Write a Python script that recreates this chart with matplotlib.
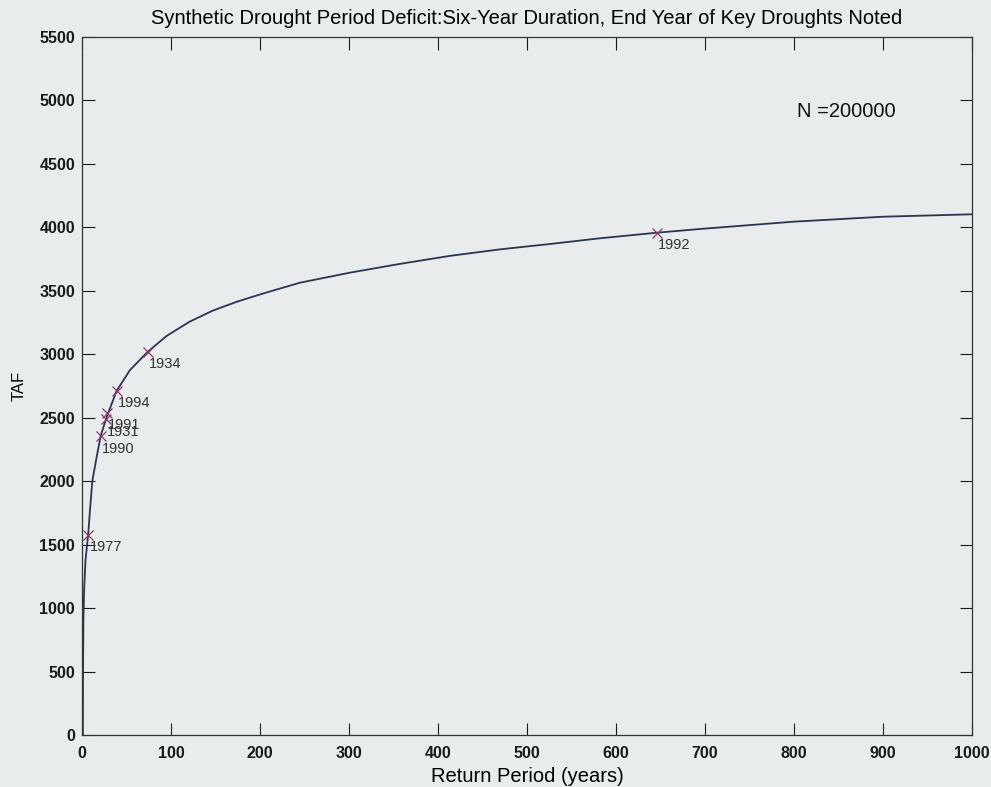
import numpy as np
import matplotlib
matplotlib.use("Agg")
import matplotlib.pyplot as plt

plt.rcParams["font.family"] = ["Liberation Sans", "DejaVu Sans"]

# curve: return period (years) vs deficit (TAF)
return_period = [1, 1.2, 1.6, 2.5, 4, 7, 9, 11.6, 16.5, 21, 28, 39, 54, 74,
                 95, 121, 147, 174, 204, 245, 301, 357, 413, 470, 526,
                 582, 646, 694, 800, 900, 1000]
deficit = [0, 500, 900, 1150, 1380, 1580, 1770, 2000, 2190, 2356, 2510,
           2713, 2876, 3020, 3144, 3257, 3344, 3414, 3480, 3564, 3643,
           3712, 3775, 3827, 3869, 3914, 3958, 3987, 4045, 4084, 4103]

# key historical droughts (end year)
drought_years = ["1977", "1990", "1931", "1991", "1994", "1934", "1992"]
drought_rp = [7, 21, 27, 28, 39, 74, 646]
drought_taf = [1580, 2356, 2488, 2540, 2713, 3020, 3958]

paper = "#e8ecec"
fig = plt.figure(figsize=(9.91, 7.87), dpi=100, facecolor=paper)
ax = fig.add_axes([0.0827, 0.066, 0.898, 0.887], facecolor=paper)

ax.plot(return_period, deficit, color="#2b3550", linewidth=1.3, zorder=2)
ax.plot(drought_rp, drought_taf, linestyle="none", marker="x",
        markersize=7, markeredgewidth=0.9, color="#8a3a66", zorder=3)
for yr, xp, yp in zip(drought_years, drought_rp, drought_taf):
    ax.annotate(yr, (xp, yp), xytext=(1, -9), textcoords="offset points",
                ha="left", va="center", fontsize=10.5, color="#333333")

ax.text(0.804, 0.893, "N =200000", transform=ax.transAxes, fontsize=14.5,
        va="center", color="#111111")

ax.set_xlim(0, 1000)
ax.set_ylim(0, 5500)
ax.set_xticks(np.arange(0, 1001, 100))
ax.set_yticks(np.arange(0, 5501, 500))
ax.tick_params(direction="in", length=9, width=0.8, top=True, right=True,
               labelsize=11.5, colors="#1a1a1a", pad=5)
ax.tick_params(axis="x", pad=8)
for lbl in ax.get_xticklabels() + ax.get_yticklabels():
    lbl.set_fontweight("bold")
for s in ax.spines.values():
    s.set_linewidth(0.9)
    s.set_color("#333333")

ax.set_xlabel("Return Period (years)", fontsize=14.5, labelpad=4)
ax.set_ylabel("TAF", fontsize=12, labelpad=9)
ax.set_title("Synthetic Drought Period Deficit:Six-Year Duration, End Year of Key Droughts Noted",
             fontsize=14.5, pad=9)

fig.savefig("out.png", dpi=100, facecolor=paper)
